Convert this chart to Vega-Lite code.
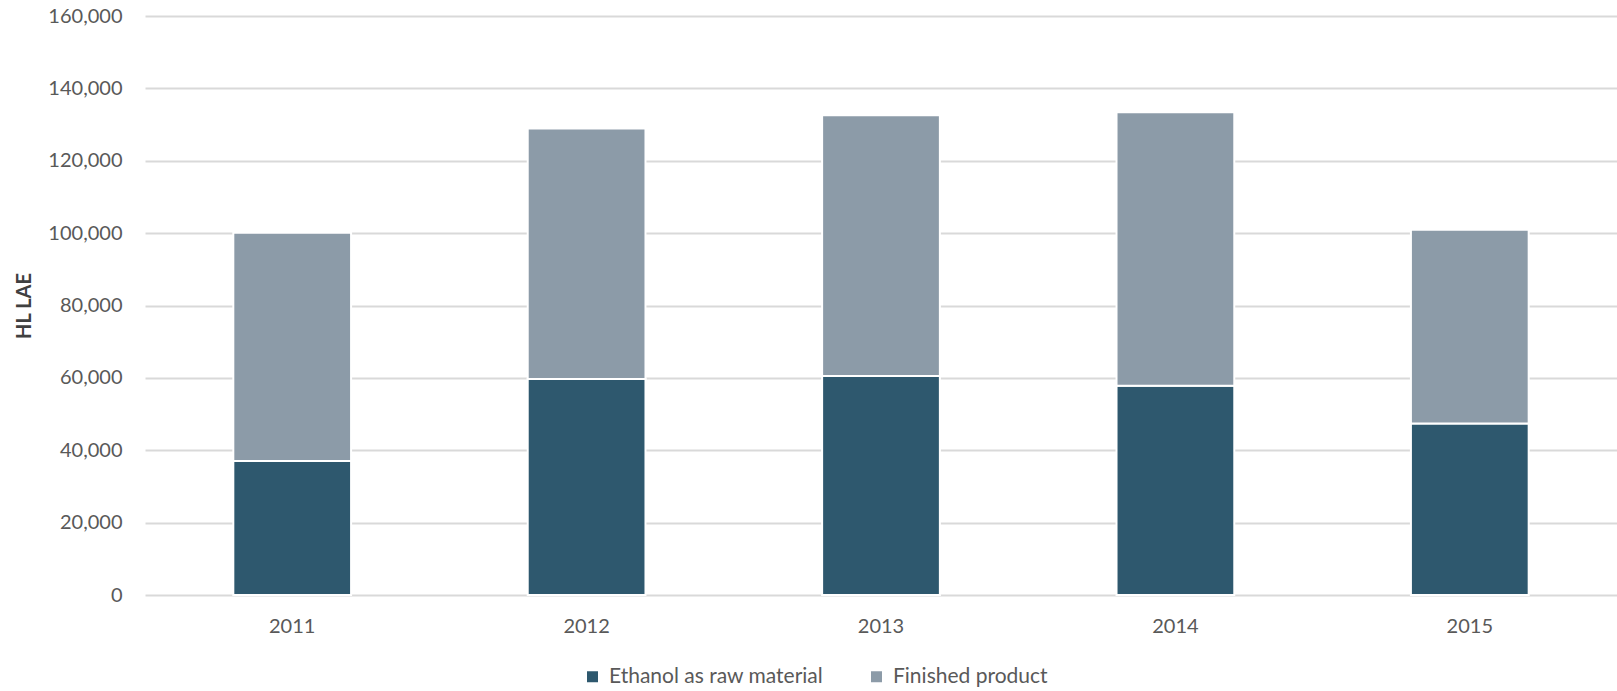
{
  "$schema": "https://vega.github.io/schema/vega-lite/v6.json",
  "width": 1472,
  "height": 579,
  "autosize": {"type": "none"},
  "padding": {"left": 145, "top": 16, "right": 0, "bottom": 96},
  "background": "white",
  "config": {
    "font": "Lato",
    "view": {"stroke": null}
  },
  "data": {
    "values": [
      {"year": "2011", "series": "Ethanol as raw material", "ord": 1, "value": 37000},
      {"year": "2011", "series": "Finished product", "ord": 2, "value": 63100},
      {"year": "2012", "series": "Ethanol as raw material", "ord": 1, "value": 59700},
      {"year": "2012", "series": "Finished product", "ord": 2, "value": 69200},
      {"year": "2013", "series": "Ethanol as raw material", "ord": 1, "value": 60500},
      {"year": "2013", "series": "Finished product", "ord": 2, "value": 72100},
      {"year": "2014", "series": "Ethanol as raw material", "ord": 1, "value": 57800},
      {"year": "2014", "series": "Finished product", "ord": 2, "value": 75600},
      {"year": "2015", "series": "Ethanol as raw material", "ord": 1, "value": 47400},
      {"year": "2015", "series": "Finished product", "ord": 2, "value": 53500}
    ]
  },
  "mark": {"type": "bar", "stroke": "white", "strokeWidth": 2},
  "encoding": {
    "x": {
      "field": "year",
      "type": "nominal",
      "scale": {"paddingInner": 0.6, "paddingOuter": 0.3},
      "axis": {
        "title": null,
        "labelAngle": 0,
        "labelFontSize": 20,
        "labelColor": "#595959",
        "labelPadding": 21,
        "domain": false,
        "ticks": false
      }
    },
    "y": {
      "field": "value",
      "type": "quantitative",
      "stack": "zero",
      "scale": {"domain": [0, 160000], "nice": false},
      "axis": {
        "title": "HL LAE",
        "titleFontSize": 20,
        "titleFontWeight": "bold",
        "titleColor": "#404040",
        "titleAngle": -90,
        "titleBaseline": "middle",
        "titleAnchor": "middle",
        "titleX": -121,
        "titleY": 289.5,
        "values": [0, 20000, 40000, 60000, 80000, 100000, 120000, 140000, 160000],
        "format": ",d",
        "labelFontSize": 20,
        "labelColor": "#595959",
        "labelPadding": 23,
        "domain": false,
        "ticks": false,
        "grid": true,
        "gridColor": "#d9d9d9",
        "gridWidth": 2
      }
    },
    "color": {
      "field": "series",
      "type": "nominal",
      "sort": ["Ethanol as raw material", "Finished product"],
      "scale": {
        "domain": ["Ethanol as raw material", "Finished product"],
        "range": ["#2e586e", "#8c9ba8"]
      },
      "legend": {
        "title": null,
        "orient": "none",
        "direction": "horizontal",
        "legendX": 437,
        "legendY": 650,
        "symbolType": "square",
        "symbolSize": 121,
        "symbolStrokeWidth": 0,
        "labelFontSize": 21,
        "labelLimit": 0,
        "labelColor": "#595959",
        "labelOffset": 6,
        "columnPadding": 42
      }
    },
    "order": {"field": "ord", "type": "quantitative"}
  }
}
